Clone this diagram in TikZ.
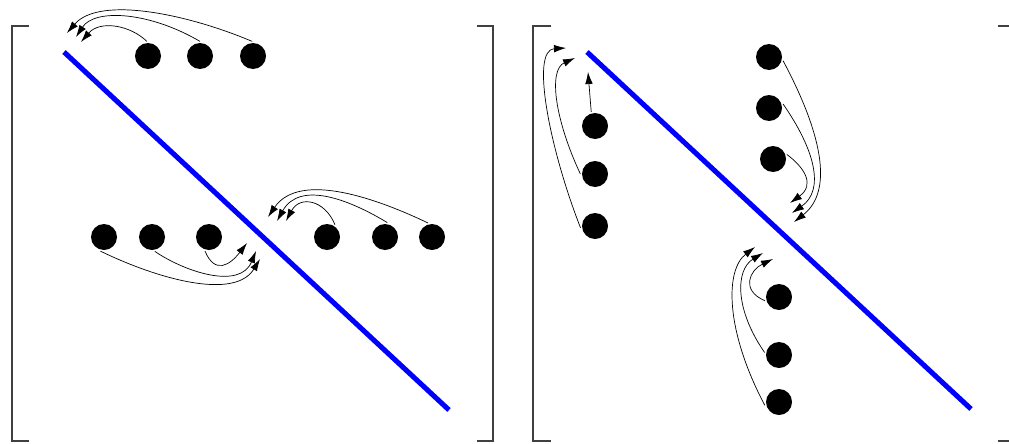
\documentclass[tikz,border=0pt]{standalone}
\usepackage{tikz}
\usetikzlibrary{arrows.meta}
\tikzset{
  dot/.style={circle, fill=black, inner sep=0pt, minimum size=6.5mm, outer sep=0.4mm},
  flow/.style={-{Latex[length=3mm,width=1.9mm]}, line width=0.5pt},
  diag/.style={blue, line width=3.6pt},
  bracket/.style={black!75, line width=0.9pt}
}

\begin{document}
\begin{tikzpicture}[x=0.25mm,y=-0.25mm]
\clip (0,0) rectangle (1009,443);
% brackets
\draw[bracket] (29,26) -- (12,26) -- (12,441) -- (29,441);
\draw[bracket] (477,26) -- (493,26) -- (493,441) -- (477,441);
\draw[bracket] (551,26) -- (533,26) -- (533,441) -- (551,441);
\draw[bracket] (998,26) -- (1014,26) -- (1014,441) -- (998,441);
% diagonals
\draw[diag] (64,52) -- (449,410);
\draw[diag] (587,52) -- (971,409);

% left matrix
\node[dot] (t1) at (148,56) {};
\node[dot] (t2) at (200,56) {};
\node[dot] (t3) at (253,56) {};
\node[dot] (m1) at (104,237) {};
\node[dot] (m2) at (152,237) {};
\node[dot] (m3) at (209,237) {};
\node[dot] (r1) at (327,237) {};
\node[dot] (r2) at (385,237) {};
\node[dot] (r3) at (432,237) {};
\coordinate (ta1) at (81,42);
\coordinate (ta2) at (76,37);
\coordinate (ta3) at (67,33);
\coordinate (ma1) at (247,243);
\coordinate (ma2) at (256,251);
\coordinate (ma3) at (260,259);
\coordinate (ra1) at (286,221);
\coordinate (ra2) at (277,221);
\coordinate (ra3) at (268,217);
\draw[flow] (t1.94) .. controls (130,25) and (100,20) .. (ta1);
\draw[flow] (t2.90) .. controls (150,12) and (95,8) .. (ta2);
\draw[flow] (t3.93) .. controls (190,15) and (100,-5) .. (ta3);
\draw[flow] (m3.-106) .. controls (215,275) and (230,265) .. (ma1);
\draw[flow] (m2.-79) .. controls (185,272) and (240,290) .. (ma2);
\draw[flow] (m1.-104) .. controls (160,280) and (235,300) .. (ma3);
\draw[flow] (r1.57) .. controls (325,200) and (300,195) .. (ra1);
\draw[flow] (r2.81) .. controls (350,200) and (300,180) .. (ra2);
\draw[flow] (r3.106) .. controls (380,200) and (300,170) .. (ra3);

% right matrix
\node[dot] (l1) at (595,126) {};
\node[dot] (l2) at (595,174) {};
\node[dot] (l3) at (595,226) {};
\node[dot] (u1) at (769,57) {};
\node[dot] (u2) at (769,108) {};
\node[dot] (u3) at (773,159) {};
\node[dot] (w1) at (779,297) {};
\node[dot] (w2) at (779,355) {};
\node[dot] (w3) at (779,402) {};
\coordinate (la1) at (588,72);
\coordinate (la2) at (575,58);
\coordinate (la3) at (566,48);
\coordinate (ua1) at (794,222);
\coordinate (ua2) at (792,213);
\coordinate (ua3) at (790,203);
\coordinate (wa1) at (773,259);
\coordinate (wa2) at (763,253);
\coordinate (wa3) at (755,247);
\draw[flow] (l1.105) -- (la1);
\draw[flow] (l2.180) .. controls (555,120) and (548,70) .. (la2);
\draw[flow] (l3.187) .. controls (550,150) and (530,50) .. (la3);
\draw[flow] (u1.-15) .. controls (820,130) and (835,190) .. (ua1);
\draw[flow] (u2.16) .. controls (815,150) and (825,190) .. (ua2);
\draw[flow] (u3.18) .. controls (805,168) and (815,185) .. (ua3);
\draw[flow] (w1.195) .. controls (740,290) and (750,270) .. (wa1);
\draw[flow] (w2.170) .. controls (735,310) and (735,270) .. (wa2);
\draw[flow] (w3.193) .. controls (725,330) and (725,270) .. (wa3);
\end{tikzpicture}
\end{document}
